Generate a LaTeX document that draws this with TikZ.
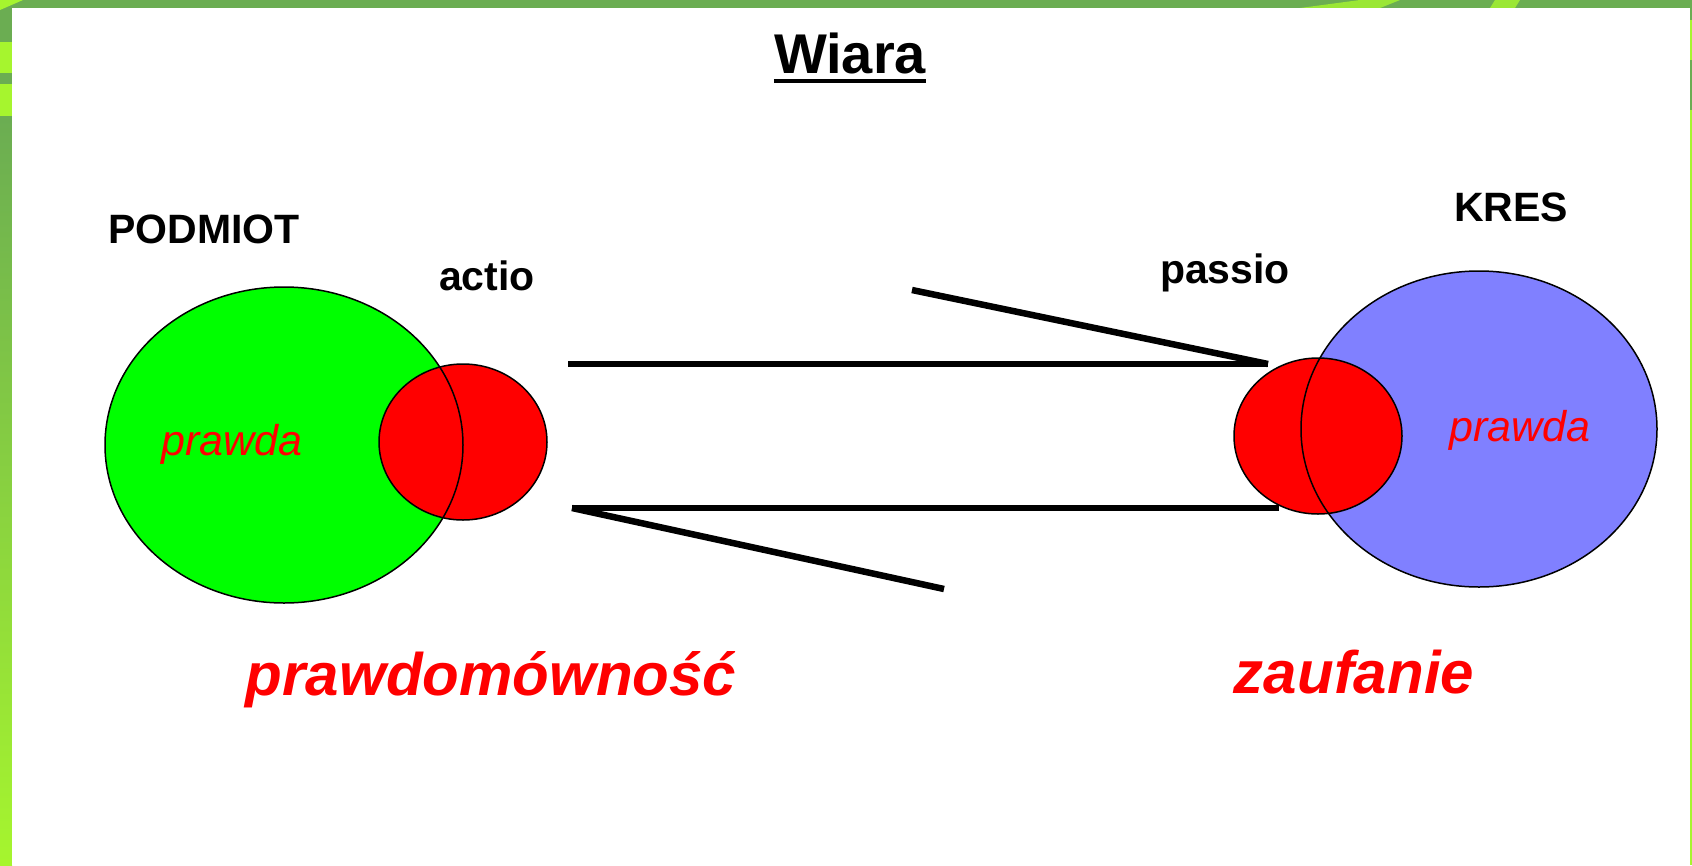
\documentclass[tikz,border=0pt]{standalone}
\usepackage{fontspec}
\setmainfont{Liberation Sans}
\definecolor{frameDark}{HTML}{6BAD52}
\definecolor{frameLime}{HTML}{A6F52E}
\definecolor{lightBlue}{HTML}{8080FF}
\tikzset{
    outline/.style={draw=black, line width=1.5pt},
    harpoon/.style={line width=6.5pt},
    word/.style={inner sep=0pt, anchor=base},
    blackword/.style={word, font=\fontsize{41}{45}\selectfont\bfseries},
    redword/.style={word, text=red, font=\fontsize{60}{64}\selectfont\bfseries\itshape},
    smallred/.style={word, text=red, font=\fontsize{43}{47}\selectfont\itshape},
    smallcirc/.style={x radius=84, y radius=78}
}
\begin{document}
\begin{tikzpicture}[x=1pt, y=-1pt]
    \useasboundingbox (0,0) rectangle (1692,865);

    % frame
    \fill[frameDark] (0,0) rectangle (1692,865);
    \shade[top color=frameDark, bottom color=frameLime] (0,117) rectangle (12,865);
    \fill[frameLime] (0,42) rectangle (12,73);
    \fill[frameLime] (0,84) rectangle (12,116);
    \fill[frameLime] (0,0) -- (23,0) -- (0,10) -- cycle;
    \fill[frameLime!80!frameDark] (1300,8) -- (1360,0) -- (1400,0) -- (1380,8) -- cycle;
    \fill[frameLime!80!frameDark] (1490,8) -- (1495,0) -- (1520,0) -- (1515,8) -- cycle;
    \fill[frameLime] (1690,20) rectangle (1692,60);
    \fill[frameLime] (1690,110) rectangle (1692,865);
    \fill[white] (12,8) rectangle (1690,865);

    % fills first, outlines after
    \fill[green] (284,445) ellipse (179 and 158);
    \fill[lightBlue] (1479,429) ellipse (178 and 158);
    \fill[red] (463,442) ellipse [smallcirc];
    \fill[red] (1318,436) ellipse [smallcirc];

    \draw[outline] (284,445) ellipse (179 and 158);
    \draw[outline] (1479,429) ellipse (178 and 158);
    \draw[outline] (463,442) ellipse [smallcirc];
    \draw[outline] (1318,436) ellipse [smallcirc];

    % harpoons
    \coordinate (topTail) at (568,364);
    \coordinate (topTip) at (1268,364);
    \coordinate (topBarb) at (912,290);
    \coordinate (lowTail) at (1279,508);
    \coordinate (lowTip) at (572,508);
    \coordinate (lowBarb) at (944,589);

    \draw[harpoon] (topTail) -- (topTip);
    \draw[harpoon] (topBarb) -- (topTip);
    \draw[harpoon] (lowTail) -- (lowTip);
    \draw[harpoon] (lowBarb) -- (lowTip);

    % labels
    \node[word, font=\fontsize{56}{60}\selectfont\bfseries] (wiara) at (850,73) {Wiara};
    \draw[line width=4pt] ([yshift=-8pt]wiara.base west) -- ([yshift=-8pt]wiara.base east);

    \node[blackword] (podmiot) at (204,243) {PODMIOT};
    \node[blackword] (actio) at (487,290) {actio};
    \node[blackword] (passio) at (1225,283) {passio};
    \node[blackword] (kres) at (1511,221) {KRES};

    \node[smallred] (prawdaL) at (232,455) {prawda};
    \node[smallred] (prawdaR) at (1520,441) {prawda};

    \node[redword] (prawdomownosc) at (491,695) {prawdomówność};
    \node[redword] (zaufanie) at (1354,693) {zaufanie};

\end{tikzpicture}
\end{document}
